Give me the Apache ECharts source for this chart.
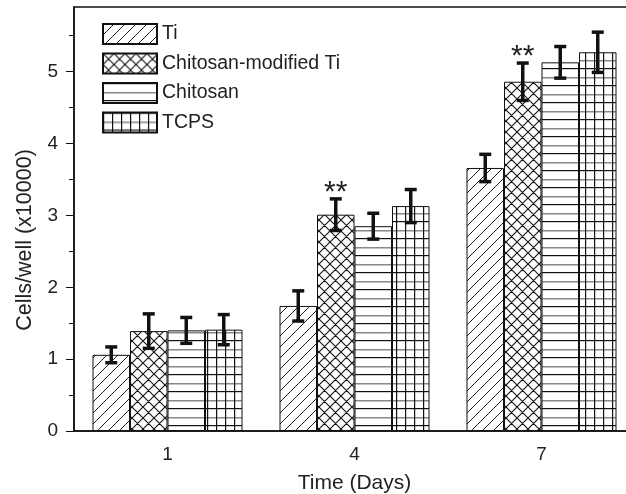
<!DOCTYPE html>
<html>
<head>
<meta charset="utf-8">
<script src="https://cdn.jsdelivr.net/npm/echarts@6/dist/echarts.min.js"></script>
<style>
  html, body { margin: 0; padding: 0; background: #fff; }
  #chart { width: 626px; height: 494px; }
</style>
</head>
<body>
<div id="chart"></div>
<script>
// data
var days = ['1', '4', '7'];
var seriesNames = ['Ti', 'Chitosan-modified Ti', 'Chitosan', 'TCPS'];
var tiMean = [1.06, 1.74, 3.66];
var tiErr = [0.11, 0.21, 0.19];
var chiModMean = [1.39, 3.01, 4.86];
var chiModErr = [0.24, 0.22, 0.26];
var chiMean = [1.40, 2.85, 5.13];
var chiErr = [0.18, 0.18, 0.22];
var tcpsMean = [1.41, 3.13, 5.27];
var tcpsErr = [0.21, 0.23, 0.28];
var sigMarks = ['', '**', '**']; // over Chitosan-modified Ti
var yTicks = [0, 1, 2, 3, 4, 5];

var means = [tiMean, chiModMean, chiMean, tcpsMean];
var errs = [tiErr, chiModErr, chiErr, tcpsErr];
var barW = 37.5;

// hatch patterns
function makePattern(w, h, draw) {
  var c = document.createElement('canvas');
  c.width = w; c.height = h;
  var ctx = c.getContext('2d');
  ctx.fillStyle = '#fff';
  ctx.fillRect(0, 0, w, h);
  draw(ctx, w, h);
  return { image: c, repeat: 'repeat' };
}
// diagonal lines drawn with copies shifted by one tile so the seams join
function slash(ctx, w, h, up) {
  for (var s = -1; s <= 1; s++) {
    if (up) { ctx.moveTo(s * w, h); ctx.lineTo(s * w + w, 0); }
    else { ctx.moveTo(s * w, 0); ctx.lineTo(s * w + w, h); }
  }
}
var diagPat = makePattern(11, 11, function (ctx, w, h) {
  ctx.strokeStyle = '#222'; ctx.lineWidth = 1;
  ctx.beginPath(); slash(ctx, w, h, true); ctx.stroke();
});
var crossPat = makePattern(11, 11, function (ctx, w, h) {
  ctx.strokeStyle = '#111'; ctx.lineWidth = 1.1;
  ctx.beginPath(); slash(ctx, w, h, true); slash(ctx, w, h, false); ctx.stroke();
});
var horizPat = makePattern(4, 17, function (ctx, w, h) {
  ctx.fillStyle = '#111'; ctx.fillRect(0, 0, w, 1.2);
  ctx.fillStyle = '#888'; ctx.fillRect(0, 9, w, 1.5);
});
var gridPat = makePattern(9, 17, function (ctx, w, h) {
  ctx.fillStyle = '#111'; ctx.fillRect(0, 0, w, 1.2);
  ctx.fillStyle = '#888'; ctx.fillRect(0, 9, w, 1.5);
  ctx.fillStyle = '#111'; ctx.fillRect(0, 0, 1.2, h);
});
var patterns = [diagPat, crossPat, horizPat, gridPat];

var series = [];
for (var i = 0; i < 4; i++) {
  series.push({
    name: seriesNames[i],
    type: 'bar',
    barWidth: barW,
    barGap: '0%',
    data: means[i],
    itemStyle: { color: patterns[i], borderColor: '#111', borderWidth: 1 }
  });
}

// error bars: [category, seriesIdx, low, high, mark]
var errData = [];
for (var k = 0; k < 4; k++) {
  for (var j = 0; j < days.length; j++) {
    errData.push([j, k, means[k][j] - errs[k][j], means[k][j] + errs[k][j], k === 1 ? sigMarks[j] : '']);
  }
}
series.push({
  type: 'custom',
  z: 10,
  silent: true,
  encode: { x: 0, y: [2, 3] },
  data: errData,
  renderItem: function (params, api) {
    var cat = api.value(0), k = api.value(1);
    var top = api.coord([cat, api.value(3)]);
    var bot = api.coord([cat, api.value(2)]);
    var x = top[0] + (k - 1.5) * barW;
    var st = { stroke: '#111', lineWidth: 3.5 };
    var children = [
      { type: 'line', shape: { x1: x, y1: top[1], x2: x, y2: bot[1] }, style: st },
      { type: 'line', shape: { x1: x - 6, y1: top[1], x2: x + 6, y2: top[1] }, style: st },
      { type: 'line', shape: { x1: x - 6, y1: bot[1], x2: x + 6, y2: bot[1] }, style: st }
    ];
    var mark = errData[params.dataIndex][4];
    if (mark) {
      children.push({
        type: 'text',
        style: { text: mark, x: x, y: top[1] - 6, align: 'center', verticalAlign: 'middle',
          font: '30px "Liberation Sans"', fill: '#222' }
      });
    }
    return { type: 'group', children: children };
  }
});

var chart = echarts.init(document.getElementById('chart'));
chart.setOption({
  animation: false,
  backgroundColor: '#fff',
  textStyle: { fontFamily: 'Liberation Sans' },
  grid: {
    left: 74, width: 561, top: 7, bottom: 63,
    outerBoundsMode: 'none',
    show: true, borderColor: '#111', borderWidth: 1.5
  },
  legend: {
    orient: 'vertical',
    left: 102, top: 23,
    padding: 0,
    itemWidth: 54, itemHeight: 20, itemGap: 7.5,
    icon: 'rect',
    textStyle: { fontSize: 19.5, lineHeight: 20, color: '#222', fontFamily: 'Liberation Sans' },
    data: seriesNames
  },
  xAxis: {
    type: 'category',
    data: days,
    name: 'Time (Days)',
    nameLocation: 'middle',
    nameGap: 42,
    nameTextStyle: { fontSize: 21, color: '#222' },
    axisLine: { lineStyle: { color: '#111', width: 1.5 } },
    axisTick: { alignWithLabel: true, length: 8, lineStyle: { color: '#111' } },
    axisLabel: { fontSize: 19, color: '#222', margin: 14 }
  },
  yAxis: {
    type: 'value',
    min: 0, max: 5.9, interval: 1,
    name: 'Cells/well (x10000)',
    nameLocation: 'middle',
    nameGap: 38,
    nameTextStyle: { fontSize: 21.5, color: '#222', padding: [0, 42, 0, 0] },
    axisLine: { show: true, lineStyle: { color: '#111', width: 1.5 } },
    axisTick: { show: true, length: 8, customValues: yTicks, lineStyle: { color: '#111' } },
    minorTick: { show: true, splitNumber: 2, length: 5, lineStyle: { color: '#111' } },
    splitLine: { show: false },
    axisLabel: { fontSize: 19, color: '#222', margin: 16, customValues: yTicks }
  },
  series: series
});
</script>
</body>
</html>
